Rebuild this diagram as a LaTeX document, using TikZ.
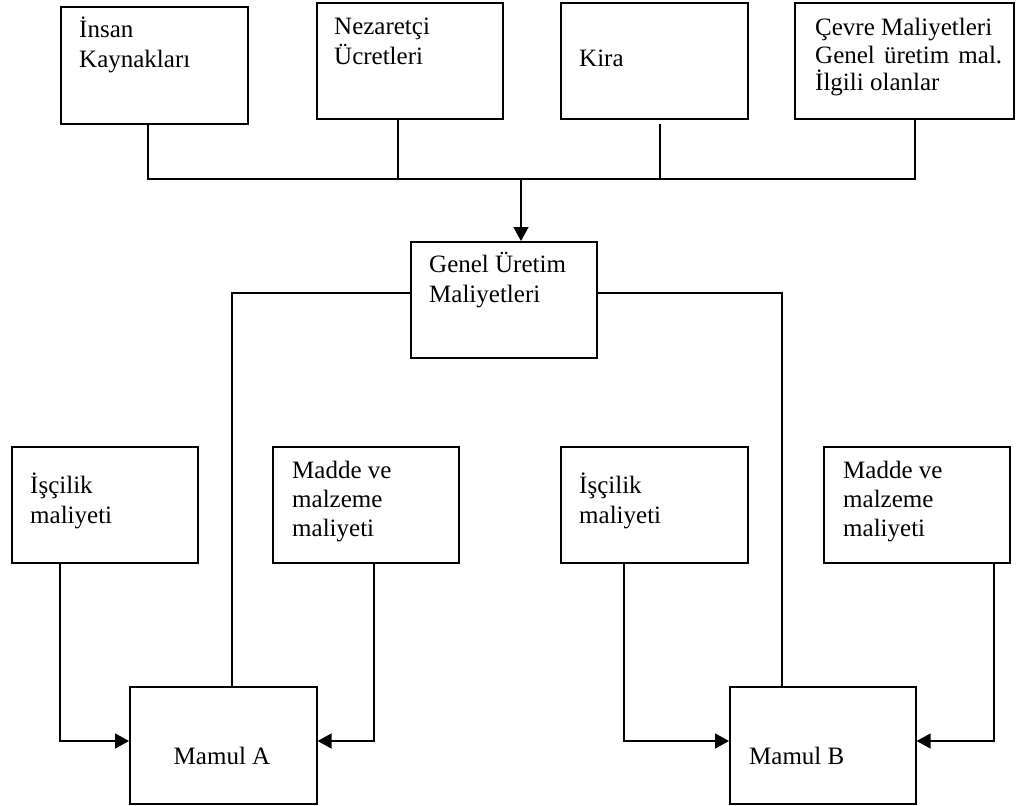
\documentclass[tikz,border=0pt]{standalone}
\usepackage{fontspec}
\setmainfont{Liberation Serif}
\usetikzlibrary{arrows.meta}
% left-aligned lines whose baseline is that of the first line
\newcommand\stacklines[1]{\vtop{\halign{##\hfil\cr#1\crcr}}}
\begin{document}
\begin{tikzpicture}[x=1pt,y=-1pt,
  box/.style={draw, line width=1.6pt, inner sep=0pt, anchor=north west,
              minimum width=186pt, minimum height=116pt},
  txt/.style={inner sep=0pt, anchor=base west, font=\fontsize{25}{30}\selectfont},
  link/.style={line width=1.6pt},
  arr/.style={line width=1.6pt, -{Triangle[length=14pt,width=15pt]}}]
\useasboundingbox (0,0) rectangle (1016,805);

% cost sources
\node[box, minimum width=187pt, minimum height=117pt] (insan) at (60,6) {};
\node[box] (nez) at (316,2) {};
\node[box, minimum width=187pt] (kira) at (560,2) {};
\node[box, minimum width=219pt] (cevre) at (794,2) {};
\node[txt] (insan-t) at (79,38) {\stacklines{İnsan\cr Kaynakları}};
\node[txt] (nez-t) at (334,35) {\stacklines{Nezaretçi\cr Ücretleri}};
\node[txt] (kira-t) at (579,67) {Kira};
\node[txt, font=\fontsize{25}{27.5}\selectfont] (cevre-t) at (815,36)
  {\stacklines{Çevre Maliyetleri\cr \makebox[187pt][s]{Genel üretim mal.}\cr İlgili olanlar}};

% overhead pool
\node[box] (genel) at (410,241) {};
\node[txt] (genel-t) at (429,272) {\stacklines{Genel Üretim\cr Maliyetleri}};

% direct costs
\node[box] (iscA) at (11,446) {};
\node[box] (maddeA) at (272,446) {};
\node[box, minimum width=187pt] (iscB) at (560,446) {};
\node[box] (maddeB) at (823,446) {};
\node[txt] (iscA-t) at (30,493) {\stacklines{İşçilik\cr maliyeti}};
\node[txt, font=\fontsize{25}{29}\selectfont] (maddeA-t) at (292,478) {\stacklines{Madde ve\cr malzeme\cr maliyeti}};
\node[txt] (iscB-t) at (579,493) {\stacklines{İşçilik\cr maliyeti}};
\node[txt, font=\fontsize{25}{29}\selectfont] (maddeB-t) at (843,478) {\stacklines{Madde ve\cr malzeme\cr maliyeti}};

% products
\node[box, minimum width=187pt, minimum height=117pt] (mamulA) at (129,686) {};
\node[box, minimum height=117pt] (mamulB) at (729,686) {};
\node[txt, anchor=base] (mamulA-t) at (222,764) {Mamul A};
\node[txt] (mamulB-t) at (749,764) {Mamul B};

% junction points
\coordinate (busL) at (148,179);
\coordinate (busN) at (398,179);
\coordinate (busM) at (521,179);
\coordinate (busK) at (660,179);
\coordinate (busR) at (915,179);
\coordinate (gl) at (232,293);
\coordinate (gr) at (782,293);
\coordinate (a1) at (60,741);
\coordinate (a2) at (374,741);
\coordinate (b1) at (624,741);
\coordinate (b2) at (994,741);

% collecting bus
\draw[link] (busL |- insan.south) -- (busL) -- (busR) -- (busR |- cevre.south);
\draw[link] (busN |- nez.south) -- (busN);
\draw[link] ([yshift=-4pt]busK |- kira.south) -- (busK);
\draw[arr] (busM) -- (busM |- genel.north);

% overhead to products
\draw[link] (genel.west |- gl) -- (gl) -- (gl |- mamulA.north);
\draw[link] (genel.east |- gr) -- (gr) -- (gr |- mamulB.north);

% direct costs to products
\draw[arr] (a1 |- iscA.south) -- (a1) -- (mamulA.west |- a1);
\draw[arr] (a2 |- maddeA.south) -- (a2) -- (mamulA.east |- a2);
\draw[arr] (b1 |- iscB.south) -- (b1) -- (mamulB.west |- b1);
\draw[arr] (b2 |- maddeB.south) -- (b2) -- (mamulB.east |- b2);
\end{tikzpicture}
\end{document}
